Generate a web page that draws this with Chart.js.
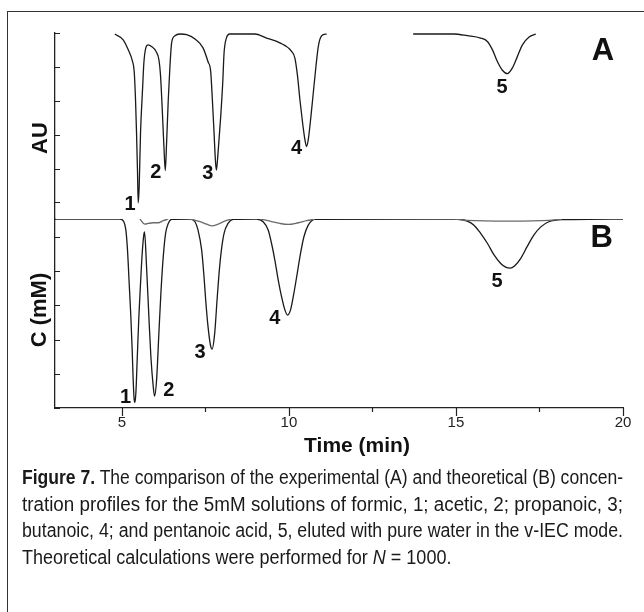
<!DOCTYPE html>
<html>
<head>
<meta charset="utf-8">
<script src="https://cdn.jsdelivr.net/npm/chart.js@4.4.1/dist/chart.umd.min.js"></script>
<style>
  html, body { margin: 0; padding: 0; background: #fff; }
  body { width: 644px; height: 612px; position: relative; overflow: hidden; }
  .frame { position: absolute; left: 7px; top: 11px; width: 700px; height: 700px;
           border-left: 1px solid #333; border-top: 1px solid #333; }
  .chart-wrap { position: absolute; left: 0; top: 0; width: 644px; height: 470px; }
  .caption { position: absolute; left: 22px; top: 464px; width: 601px; color: #1a1a1a;
             font-family: 'Liberation Sans', Arial, sans-serif; font-size: 20px; }
  .caption .line { white-space: nowrap; height: 26.5px; line-height: 26.5px; }
  .caption .line span { display: inline-block; transform-origin: 0 50%; }
</style>
</head>
<body>
<div class="frame"></div>
<div class="chart-wrap"><canvas id="chromChart" width="644" height="470"></canvas></div>
<div class="caption">
  <div class="line"><span><b>Figure 7.</b> The comparison of the experimental (A) and theoretical (B) concen-</span></div>
  <div class="line"><span>tration profiles for the 5mM solutions of formic, 1; acetic, 2; propanoic, 3;</span></div>
  <div class="line"><span>butanoic, 4; and pentanoic acid, 5, eluted with pure water in the v-IEC mode.</span></div>
  <div class="line"><span>Theoretical calculations were performed for <i>N</i> = 1000.</span></div>
</div>
<script>
// panel A, experimental trace (AU, drawn downward from the top baseline)
const timeA1 = [4.79, 5.04, 5.19, 5.32, 5.37, 5.41, 5.44, 5.47, 5.49, 5.52, 5.56, 5.62, 5.66, 5.72, 5.79,
  5.89, 6.02, 6.11, 6.16, 6.21, 6.26, 6.30, 6.34, 6.39, 6.44, 6.49, 6.59, 6.74, 6.94, 7.19,
  7.43, 7.58, 7.66, 7.71, 7.76, 7.80, 7.83, 7.88, 7.96, 8.02, 8.06, 8.13, 8.23, 8.98, 9.33,
  9.73, 10.08, 10.18, 10.26, 10.33, 10.41, 10.48, 10.53, 10.58, 10.66, 10.73, 10.81, 10.88, 10.98, 11.13];
const auA1 = [0.03, 0.20, 0.49, 0.84, 1.13, 1.97, 2.94, 4.12, 5.01, 4.53, 2.94, 1.67, 0.88, 0.43, 0.35,
  0.40, 0.54, 0.79, 1.28, 2.26, 3.35, 4.06, 3.24, 1.97, 0.99, 0.29, 0.08, 0.03, 0.05, 0.18,
  0.44, 0.85, 1.14, 1.97, 2.94, 3.74, 4.05, 3.53, 2.46, 1.47, 0.59, 0.15, 0.03, 0.03, 0.15,
  0.29, 0.54, 0.74, 1.28, 1.97, 2.65, 3.15, 3.35, 3.15, 2.46, 1.77, 0.99, 0.40, 0.08, 0.03];
const timeA2 = [13.72, 14.94, 15.34, 15.74, 15.94, 16.09, 16.24, 16.39, 16.54, 16.69, 16.84, 16.99, 17.19, 17.39];
const auA2 = [0.03, 0.03, 0.08, 0.15, 0.25, 0.49, 0.84, 1.10, 1.20, 1.03, 0.69, 0.35, 0.12, 0.03];

// panel B, theoretical concentration profile
const timeB = [3.00, 4.94, 5.06, 5.12, 5.17, 5.22, 5.27, 5.31, 5.34, 5.37, 5.39, 5.42, 5.46, 5.51, 5.56,
  5.61, 5.66, 5.68, 5.74, 5.81, 5.87, 5.94, 5.98, 6.04, 6.11, 6.17, 6.24, 6.31, 6.39, 6.49,
  7.04, 7.19, 7.28, 7.39, 7.46, 7.51, 7.58, 7.66, 7.70, 7.78, 7.85, 7.91, 7.98, 8.06, 8.18, 8.33,
  9.03, 9.23, 9.38, 9.48, 9.58, 9.68, 9.78, 9.88, 9.96, 10.05, 10.15, 10.25, 10.35, 10.45, 10.58, 10.78,
  14.97, 15.34, 15.54, 15.74, 15.94, 16.14, 16.34, 16.49, 16.62, 16.76, 16.94, 17.13, 17.33, 17.54, 17.78, 18.18, 20.00];
const concB = [0, 0, 0.08, 0.32, 0.91, 1.88, 2.86, 3.83, 4.71, 5.29, 5.37, 5.10, 4.12, 2.86, 1.88,
  1.00, 0.45, 0.38, 1.40, 2.86, 4.03, 4.90, 5.18, 4.71, 3.33, 2.16, 1.10, 0.42, 0.13, 0.01,
  0, 0.08, 0.32, 0.91, 1.69, 2.37, 3.15, 3.73, 3.81, 3.34, 2.37, 1.59, 0.91, 0.42, 0.13, 0.01,
  0, 0.08, 0.32, 0.71, 1.20, 1.78, 2.27, 2.66, 2.81, 2.66, 2.17, 1.59, 1.00, 0.52, 0.18, 0.01,
  0, 0.06, 0.18, 0.42, 0.71, 1.05, 1.30, 1.41, 1.44, 1.37, 1.15, 0.81, 0.47, 0.23, 0.08, 0.02, 0];

// panel B, small secondary profiles near the baseline (null = break)
const timeB2 = [5.54, 5.69, 5.79, 5.94, 6.09, 6.24, 6.39, 6.6,
  7.04, 7.34, 7.54, 7.70, 7.88, 8.08, 8.28, 8.6,
  9.13, 9.43, 9.73, 9.98, 10.28, 10.53, 10.78, 12,
  14.97, 15.33, 16.62, 17.78, 18.17];
const concB2 = [0, 0.15, 0.13, 0.11, 0.11, 0.05, 0, null,
  0, 0.08, 0.15, 0.20, 0.15, 0.06, 0, null,
  0, 0.06, 0.13, 0.16, 0.11, 0.05, 0, null,
  0, 0.04, 0.06, 0.04, 0];

// axis ticks
const timeTicks = [5, 7.5, 10, 12.5, 15, 17.5, 20];
const auTicks = [0, 1, 2, 3, 4, 5];
const concTicks = [0.53, 1.53, 2.53, 3.53, 4.53, 5.53];

// peak numbers
const peakNames = ['1', '2', '3', '4', '5'];
const peakTimeA = [5.25, 6.02, 7.57, 10.23, 16.38];
const peakAuA = [5.05, 4.12, 4.15, 3.41, 1.60];
const peakTimeB = [5.11, 6.41, 7.34, 9.58, 16.23];
const peakConcB = [5.22, 5.03, 3.90, 2.92, 1.84];

const toPoints = (xs, ys) => xs.map((x, i) => ({ x, y: ys[i] }));

Chart.defaults.font.family = "'Liberation Sans', Arial, sans-serif";
Chart.defaults.color = '#222';

const tickMarks = {
  id: 'tickMarks',
  afterDraw(chart) {
    const ctx = chart.ctx;
    const { x, yA, yB } = chart.scales;
    ctx.save();
    ctx.strokeStyle = '#222';
    ctx.lineWidth = 1.2;
    ctx.beginPath();
    [yA, yB].forEach((s) => s.ticks.forEach((t) => {
      const py = Math.round(s.getPixelForValue(t.value)) + 0.5;
      ctx.moveTo(s.right, py);
      ctx.lineTo(s.right + 5, py);
    }));
    x.ticks.forEach((t) => {
      const px = Math.round(x.getPixelForValue(t.value)) + 0.5;
      const len = t.value % 5 === 0 ? 8 : 4;
      ctx.moveTo(px, x.top);
      ctx.lineTo(px, x.top + len);
    });
    ctx.stroke();
    ctx.restore();
  },
};

const textLabels = {
  id: 'textLabels',
  afterDraw(chart) {
    const ctx = chart.ctx;
    const { x, yA, yB } = chart.scales;
    ctx.save();
    ctx.fillStyle = '#111';
    ctx.textAlign = 'center';
    ctx.textBaseline = 'middle';

    ctx.font = "bold 20px 'Liberation Sans', Arial, sans-serif";
    peakNames.forEach((name, i) => {
      ctx.fillText(name, x.getPixelForValue(peakTimeA[i]), yA.getPixelForValue(peakAuA[i]));
      ctx.fillText(name, x.getPixelForValue(peakTimeB[i]), yB.getPixelForValue(peakConcB[i]));
    });

    ctx.font = "bold 31px 'Liberation Sans', Arial, sans-serif";
    ctx.fillText('A', x.getPixelForValue(19.4), yA.getPixelForValue(0.54));
    ctx.fillText('B', x.getPixelForValue(19.36), yB.getPixelForValue(0.56));

    // axis titles
    ctx.font = "bold 21px 'Liberation Sans', Arial, sans-serif";
    ctx.fillText('Time (min)', 357, 446);
    ctx.font = "bold 22px 'Liberation Sans', Arial, sans-serif";
    ctx.translate(41, 138);
    ctx.rotate(-Math.PI / 2);
    ctx.fillText('AU', 0, 0);
    ctx.rotate(Math.PI / 2);
    ctx.translate(-41, -138);
    ctx.translate(40, 310);
    ctx.rotate(-Math.PI / 2);
    ctx.fillText('C (mM)', 0, 0);
    ctx.restore();
  },
};

const lineStyle = {
  showLine: true,
  pointRadius: 0,
  fill: false,
  cubicInterpolationMode: 'monotone',
  spanGaps: false,
};

const ctx = document.getElementById('chromChart').getContext('2d');
new Chart(ctx, {
  type: 'scatter',
  data: {
    datasets: [
      { ...lineStyle, data: toPoints(timeA1, auA1), yAxisID: 'yA', borderColor: '#1a1a1a', borderWidth: 1.3 },
      { ...lineStyle, data: toPoints(timeA2, auA2), yAxisID: 'yA', borderColor: '#1a1a1a', borderWidth: 1.3 },
      { ...lineStyle, data: toPoints(timeB2, concB2), yAxisID: 'yB', borderColor: '#6a6a6a', borderWidth: 1.3 },
      { ...lineStyle, data: toPoints(timeB, concB), yAxisID: 'yB', borderColor: '#1a1a1a', borderWidth: 1.3 },
    ],
  },
  options: {
    responsive: false,
    animation: false,
    events: [],
    layout: { padding: { top: 33, right: 21, left: 0, bottom: 0 } },
    plugins: {
      legend: { display: false },
      tooltip: { enabled: false },
    },
    scales: {
      x: {
        type: 'linear',
        position: 'bottom',
        min: 3,
        max: 20,
        afterBuildTicks: (axis) => { axis.ticks = timeTicks.map((v) => ({ value: v })); },
        afterFit: (axis) => { axis.height = 62; },
        grid: { display: false, drawTicks: false },
        border: { display: true, color: '#222', width: 1.3 },
        ticks: {
          autoSkip: false,
          maxRotation: 0,
          padding: 6,
          color: '#222',
          font: { size: 15 },
          callback: (v) => (v % 5 === 0 ? String(v) : ''),
        },
      },
      // stacked layout puts the later scale on top
      yB: {
        type: 'linear',
        position: 'left',
        stack: 'panels',
        stackWeight: 189,
        reverse: true,
        min: 0,
        max: 5.53,
        afterBuildTicks: (axis) => { axis.ticks = concTicks.map((v) => ({ value: v })); },
        afterFit: (axis) => { axis.width = 55; },
        grid: { display: false, drawTicks: false },
        border: { display: true, color: '#222', width: 1.3 },
        ticks: { display: false },
      },
      yA: {
        type: 'linear',
        position: 'left',
        stack: 'panels',
        stackWeight: 186,
        reverse: true,
        min: 0,
        max: 5.49,
        afterBuildTicks: (axis) => { axis.ticks = auTicks.map((v) => ({ value: v })); },
        afterFit: (axis) => { axis.width = 55; },
        grid: { display: false, drawTicks: false },
        border: { display: true, color: '#222', width: 1.3 },
        ticks: { display: false },
      },
    },
  },
  plugins: [tickMarks, textLabels],
});

// squeeze caption lines to the justified width of the printed figure
const spans = document.querySelectorAll('.caption .line span');
const factors = [];
spans.forEach((span, i) => {
  const w = span.getBoundingClientRect().width;
  const k = i < spans.length - 1 ? 601 / w : factors.reduce((a, b) => a + b, 0) / factors.length;
  factors.push(k);
  span.style.transform = `scaleX(${k})`;
});
</script>
</body>
</html>
